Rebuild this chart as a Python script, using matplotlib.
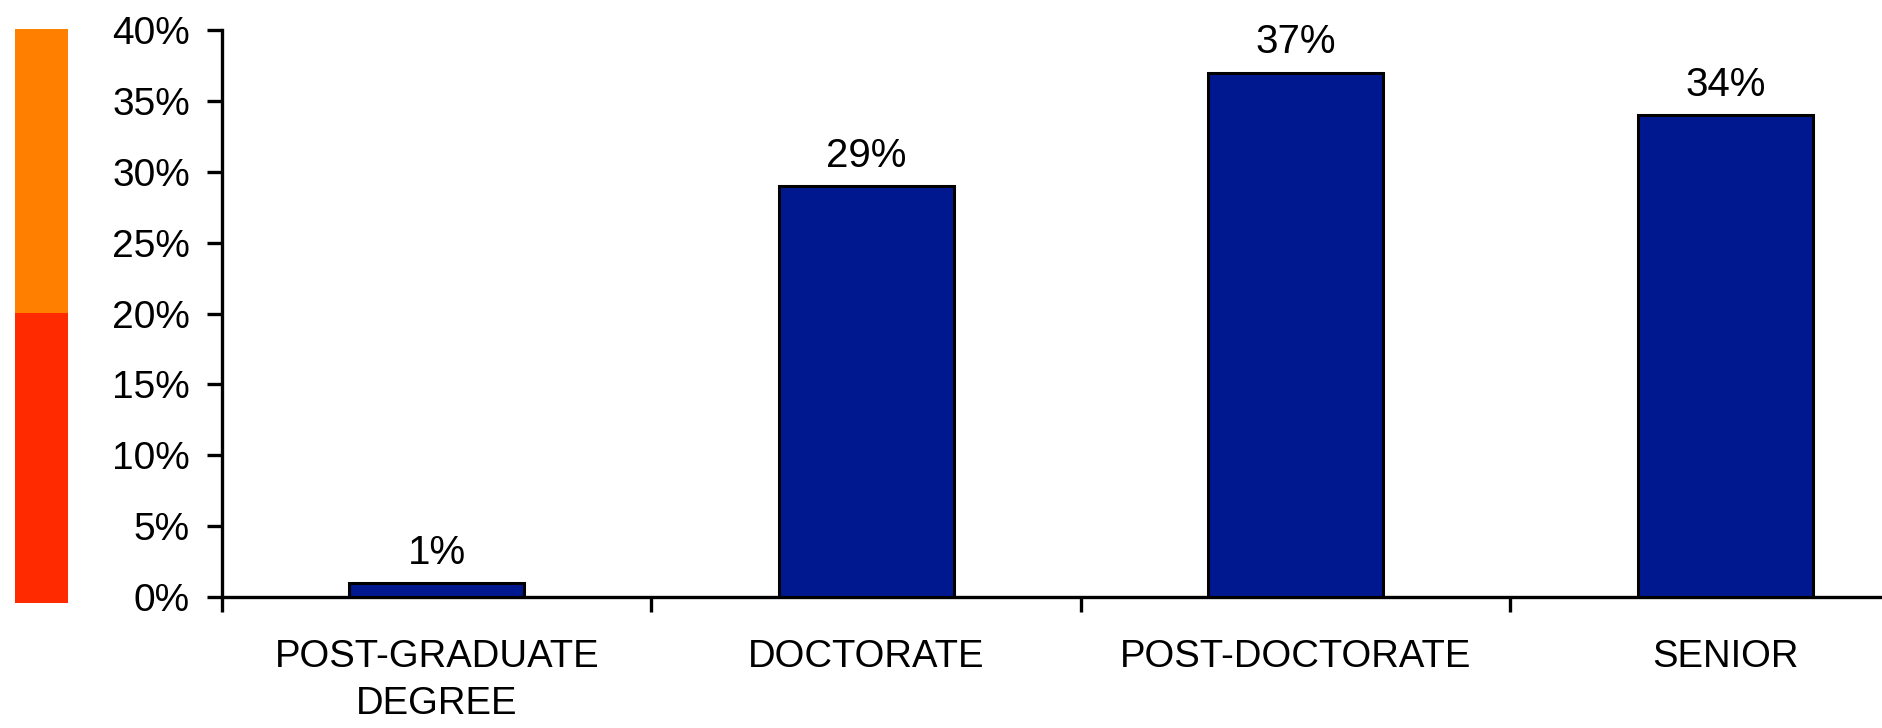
import matplotlib
matplotlib.use("Agg")
import matplotlib.pyplot as plt
from matplotlib.ticker import FixedLocator, FuncFormatter

plt.rcParams['font.family'] = ['Liberation Sans', 'DejaVu Sans']

categories = ["POST-GRADUATE\nDEGREE", "DOCTORATE", "POST-DOCTORATE", "SENIOR"]
values = [1, 29, 37, 34]
labels = ["1%", "29%", "37%", "34%"]
y_ticks = [0, 5, 10, 15, 20, 25, 30, 35, 40]

strip_bounds = [0, 20, 40]
strip_colors = ["#FF2A00", "#FF7F00"]

W, H = 1883, 728
fig = plt.figure(figsize=(W / 100, H / 100), dpi=100)

# main axes (extends past right edge like the cropped original)
left, right = 222, 222 + 4 * 429.5
bottom, top = 597, 30
ax = fig.add_axes([left / W, (H - bottom) / H, (right - left) / W, (bottom - top) / H])

x = list(range(len(categories)))
ax.bar(x, values, width=0.407, color="#00188F", edgecolor="black", linewidth=2.2, zorder=3)

ax.set_xlim(-0.5, len(categories) - 0.5)
ax.set_ylim(0, 40)

for xi, v, lab in zip(x, values, labels):
    ax.annotate(lab, (xi, v), xytext=(0, 8), textcoords="offset points",
                ha="center", va="bottom", fontsize=29, color="black")

for s in ["top", "right"]:
    ax.spines[s].set_visible(False)
for s in ["left", "bottom"]:
    ax.spines[s].set_linewidth(2.4)
    ax.spines[s].set_color("black")

ax.yaxis.set_major_locator(FixedLocator(y_ticks))
ax.yaxis.set_major_formatter(FuncFormatter(lambda v, p: f"{int(v)}%"))
ax.tick_params(axis="y", direction="out", length=11, width=2.4, labelsize=28, pad=12)

ax.set_xticks(x)
ax.set_xticklabels(categories, multialignment="center", linespacing=1.4)
ax.set_xticks([i - 0.5 for i in range(len(categories) + 1)], minor=True)
ax.tick_params(axis="x", which="major", length=0, labelsize=27.5, pad=30)
ax.tick_params(axis="x", which="minor", direction="out", length=11, width=2.4)

# coloured strip on the left
sax = fig.add_axes([15 / W, (H - 603) / H, (68 - 15) / W, (603 - 29) / H])
sax.set_xlim(0, 1)
sax.set_ylim(-0.42, 40)
for lo, hi, c in zip(strip_bounds[:-1], strip_bounds[1:], strip_colors):
    b = lo if lo > 0 else -0.42
    sax.bar(0.5, hi - b, bottom=b, width=1.0, color=c, linewidth=0)
sax.axis("off")

fig.savefig("out.png", dpi=100)
